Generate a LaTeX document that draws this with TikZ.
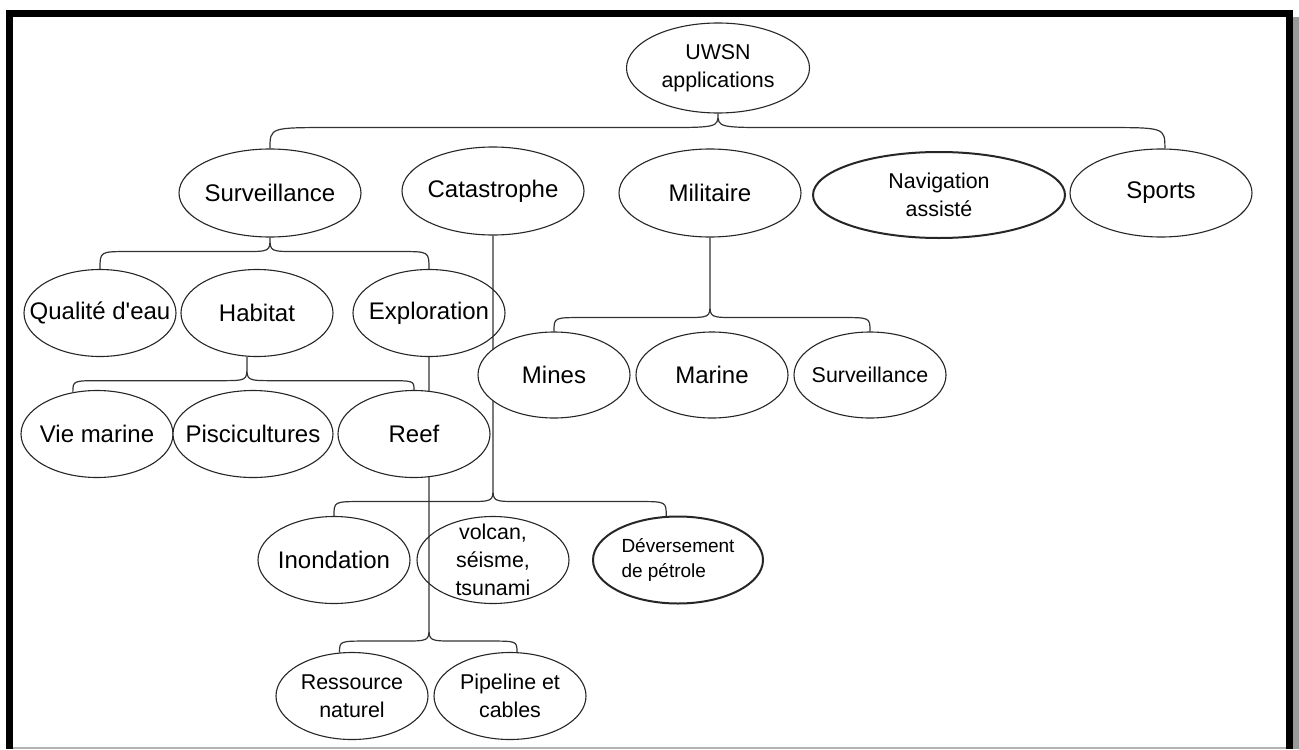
\documentclass[tikz,border=0pt]{standalone}
\usepackage{fontspec}
\setmainfont{Liberation Sans}[Ligatures=TeXOff]
\usetikzlibrary{shapes.geometric,calc,backgrounds}
\tikzset{
  bulle/.style={ellipse, draw=black!85, line width=0.55pt, fill=white, inner sep=-2cm,
    align=center, font=\fontsize{12}{14}\selectfont},
  grand/.style={bulle, minimum width=91pt, minimum height=44pt},
  moyen/.style={bulle, minimum width=76pt, minimum height=43.5pt},
  petit/.style={font=\fontsize{10.7}{14}\selectfont},
  epais/.style={line width=1pt},
  lien/.style={draw=black!80, line width=0.6pt},
}
\newcommand{\accolade}[5]{% #1 parent anchor, #2 stem (px), #3 left end, #4 right end, #5 curl width
  \draw[lien] let \p1=($(#1)+(0,#2)$), \p2=(#3), \p3=(#4) in
    (#1) -- (\p1)
    (\p2) .. controls (\x2,{\y1-7pt}) .. ({\x2+#5},{\y1-7pt})
    -- ({\x1-#5},{\y1-7pt}) .. controls (\x1,{\y1-7pt}) .. (\p1)
    .. controls (\x1,{\y1-7pt}) .. ({\x1+#5},{\y1-7pt})
    -- ({\x3-#5},{\y1-7pt}) .. controls (\x3,{\y1-7pt}) .. (\p3);
}
\begin{document}
\begin{tikzpicture}[x=0.5pt, y=-0.5pt]
  \useasboundingbox (0,0) rectangle (1299,749);
  % frame
  \draw[line width=3.5pt] (9.5,749) -- (9.5,13.5) -- (1289.5,13.5) -- (1289.5,749);
  \fill[black!40] (1293,17) rectangle (1299,749);
  \draw[black!30, line width=0.75pt] (13,748) -- (1286,748);

  % level 0 and 1
  \node[grand, petit, minimum width=91.5pt, minimum height=45pt] (uwsn) at (718,68) {UWSN\\applications};
  \node[grand] (surv) at (270,193) {Surveillance};
  \node[grand] (cata) at (493,191) {Catastrophe};
  \node[grand] (mil) at (710,193) {Militaire};
  \node[grand, petit, epais, minimum width=126pt, minimum height=43pt] (nav) at (939,195) {Navigation\\assist\'e};
  \node[grand] (sport) at (1161,193) {Sports};

  % surveillance
  \node[moyen] (qual) at (100,313) {Qualit\'e d'eau};
  \node[moyen] (hab) at (257,313) {Habitat};
  \node[moyen, fill=none] (expl) at (429,313) {Exploration};
  \node[moyen] (vie) at (97,434) {Vie marine};
  \node[moyen, minimum width=80pt] (pisc) at (253,434) {Piscicultures};
  \node[moyen] (reef) at (414,434) {Reef};
  \node[moyen, petit] (res) at (352,696) {Ressource\\naturel};
  \node[moyen, petit] (pipe) at (510,696) {Pipeline et\\cables};

  % militaire
  \node[moyen, minimum height=43pt] (mines) at (554,375) {Mines};
  \node[moyen, minimum height=43pt] (marine) at (712,375) {Marine};
  \node[moyen, petit, minimum height=43pt] (survm) at (870,375) {Surveillance};

  % catastrophe
  \node[moyen] (inond) at (334,560) {Inondation};
  \node[moyen, petit, fill=none] (volc) at (493,560) {volcan,\\s\'eisme,\\tsunami};
  \node[moyen, epais, minimum width=85pt, align=left, font=\fontsize{9.5}{12.5}\selectfont] (dev) at (678,560) {D\'eversement\\de p\'etrole};

  \begin{scope}[on background layer]
    \fill[white] (13,17) rectangle (1286,747);
    \accolade{uwsn.south}{0}{surv.north}{sport.85}{30pt}
    \accolade{surv.south}{0}{qual.north}{expl.north}{14pt}
    \accolade{hab.-103}{10}{vie.120}{reef.north}{14pt}
    \accolade{mil.south}{66}{mines.north}{survm.north}{14pt}
    \accolade{cata.south}{252}{inond.north}{dev.105}{14pt}
    \accolade{expl.south}{270}{res.106}{pipe.81}{14pt}
  \end{scope}
\end{tikzpicture}
\end{document}
